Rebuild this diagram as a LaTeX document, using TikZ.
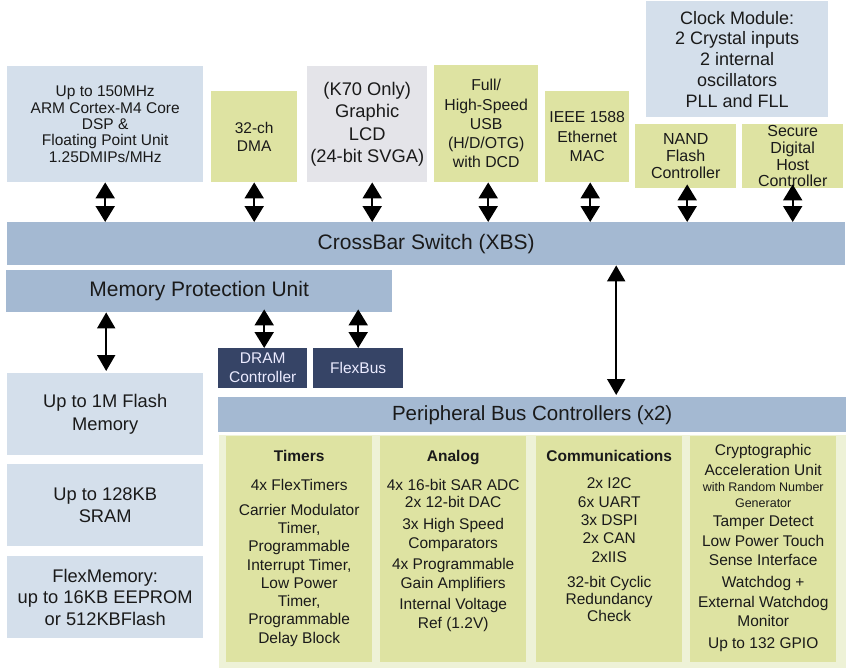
\documentclass[tikz,border=0pt]{standalone}
\usepackage{fontspec}
\setmainfont{Liberation Sans}
\usetikzlibrary{arrows.meta}
\definecolor{lblue}{HTML}{D4DFEB}
\definecolor{lgreen}{HTML}{DEE3A2}
\definecolor{lgray}{HTML}{E4E4E9}
\definecolor{barblue}{HTML}{A4B9D2}
\definecolor{dnavy}{HTML}{364466}
\definecolor{pale}{HTML}{EEF2D7}
\definecolor{txt}{HTML}{1A1A1A}
\newcommand\setfs[2]{\fontsize{#1}{#2}\selectfont}
\begin{document}
\begin{tikzpicture}[x=1pt,y=-1pt,
  box/.style={draw=none, inner sep=0pt, anchor=north west, align=center, text=txt},
  coltext/.style={inner sep=0pt, anchor=north, align=center, text=txt, font={\setfs{15.5}{18.3}}},
  dblshort/.style={line width=2pt, {Triangle[width=19pt,length=16pt]}-{Triangle[width=19pt,length=16pt]}},
  dbllong/.style={line width=2pt, {Triangle[width=18pt,length=16pt]}-{Triangle[width=18pt,length=16pt]}}
]
\useasboundingbox (0,0) rectangle (846,670);

% top row
\node[box, fill=lblue, minimum width=196pt, minimum height=116pt, font={\setfs{15.5}{16.3}}] (cpu) at (7,66)
  {Up to 150MHz\\ARM Cortex-M4 Core\\DSP \&\\Floating Point Unit\\1.25DMIPs/MHz};
\node[box, fill=lgreen, minimum width=86pt, minimum height=91pt, font={\setfs{15.5}{18}}] (dma) at (211,91)
  {32-ch\\DMA};
\node[box, fill=lgray, minimum width=120pt, minimum height=116pt, font={\setfs{18.3}{22.3}}] (lcd) at (307,66)
  {(K70 Only)\\Graphic\\LCD\\(24-bit SVGA)};
\node[box, fill=lgreen, minimum width=104pt, minimum height=117pt, font={\setfs{15.8}{19.3}}] (usb) at (434,65)
  {Full/\\High-Speed\\USB\\(H/D/OTG)\\with DCD};
\node[box, fill=lgreen, minimum width=84pt, minimum height=91pt, font={\setfs{15.8}{19.2}}] (eth) at (545,91)
  {IEEE 1588\\Ethernet\\MAC};
\node[box, fill=lblue, minimum width=182pt, minimum height=116pt, font={\setfs{18}{20.8}}] (clock) at (646,1)
  {Clock Module:\\2 Crystal inputs\\2 internal\\oscillators\\PLL and FLL};
\node[box, fill=lgreen, minimum width=101pt, minimum height=64pt, font={\setfs{16}{16.7}}] (nand) at (635,124)
  {NAND\\Flash\\Controller};
\node[box, fill=lgreen, minimum width=101pt, minimum height=64pt, font={\setfs{16}{16.7}}] (sd) at (742,124)
  {Secure\\Digital\\Host\\Controller};

% crossbar
\node[box, fill=barblue, minimum width=838pt, minimum height=43pt, font={\setfs{21}{24}}] (xbs) at (7,222)
  {CrossBar Switch (XBS)};

\draw[dblshort] (cpu.south) -- (cpu.south |- xbs.north);
\draw[dblshort] (dma.south) -- (dma.south |- xbs.north);
\draw[dblshort] ([xshift=5pt]lcd.south) -- ([xshift=5pt]lcd.south |- xbs.north);
\draw[dblshort] ([xshift=2pt]usb.south) -- ([xshift=2pt]usb.south |- xbs.north);
\draw[dblshort] ([xshift=3pt]eth.south) -- ([xshift=3pt]eth.south |- xbs.north);
\draw[dblshort] ([xshift=1.5pt,yshift=4pt]nand.south) -- ([xshift=1.5pt]nand.south |- xbs.north);
\draw[dblshort] ([yshift=4pt]sd.south) -- (sd.south |- xbs.north);

% MPU and memory
\node[box, fill=barblue, minimum width=386pt, minimum height=42pt, font={\setfs{21}{24}}] (mpu) at (6,270)
  {Memory Protection Unit};
\node[box, fill=dnavy, text=white!92!blue, minimum width=89pt, minimum height=40pt, font={\setfs{15.5}{19}}] (dram) at (218,348)
  {DRAM\\Controller};
\node[box, fill=dnavy, text=white!92!blue, minimum width=90pt, minimum height=40pt, font={\setfs{15.5}{19}}] (flexbus) at (313,348)
  {FlexBus};
\node[box, fill=lblue, minimum width=196pt, minimum height=82pt, font={\setfs{18.3}{22.5}}] (flash) at (7,373)
  {Up to 1M Flash\\Memory};
\node[box, fill=lblue, minimum width=196pt, minimum height=82pt, font={\setfs{18.3}{22}}] (sram) at (7,464)
  {Up to 128KB\\SRAM};
\node[box, fill=lblue, minimum width=196pt, minimum height=82pt, font={\setfs{18.3}{21.7}}] (flexmem) at (7,556)
  {FlexMemory:\\up to 16KB EEPROM\\or 512KBFlash};

\draw[dbllong] ([xshift=1pt]flash.north |- mpu.south) -- ([xshift=1pt,yshift=2pt]flash.north);
\draw[dblshort] ([xshift=1.5pt,yshift=3pt]dram.north |- mpu.south) -- ([xshift=1.5pt]dram.north);
\draw[dblshort] ([yshift=3pt]flexbus.north |- mpu.south) -- (flexbus.north);

% peripheral bus
\node[box, fill=barblue, minimum width=628pt, minimum height=35pt, font={\setfs{20.5}{24}}] (pbc) at (218,397)
  {Peripheral Bus Controllers (x2)};
\draw[dbllong] ([xshift=84pt]pbc.north |- xbs.south) -- ([xshift=84pt,yshift=2pt]pbc.north);

\node[box, fill=pale, minimum width=627pt, minimum height=233pt] (pback) at (219,435) {};
\node[box, fill=lgreen, minimum width=146pt, minimum height=226pt] (timers) at (226,436) {};
\node[box, fill=lgreen, minimum width=146pt, minimum height=226pt] (analog) at (380,436) {};
\node[box, fill=lgreen, minimum width=146pt, minimum height=226pt] (comm) at (536,436) {};
\node[box, fill=lgreen, minimum width=146pt, minimum height=226pt] (crypto) at (690,436) {};

\node[coltext] (timersT) at ([yshift=-14.4pt]timers.north)
  {\textbf{Timers}\\[10.7pt]4x FlexTimers\\[6pt]Carrier Modulator\\Timer,\\Programmable\\Interrupt Timer,\\Low Power\\Timer,\\Programmable\\Delay Block};
\node[coltext] (analogT) at ([yshift=-14.4pt]analog.north)
  {\textbf{Analog}\\[10.7pt]4x 16-bit SAR ADC\\[-1.3pt]2x 12-bit DAC\\[3.7pt]3x High Speed\\[0.7pt]Comparators\\[2.7pt]4x Programmable\\[0.7pt]Gain Amplifiers\\[2.7pt]Internal Voltage\\Ref (1.2V)};
\node[coltext] (commT) at ([yshift=-14.4pt]comm.north)
  {\textbf{Communications}\\[8.7pt]2x I2C\\6x UART\\3x DSPI\\2x CAN\\2xIIS\\[6.7pt]32-bit Cyclic\\[-1.3pt]Redundancy\\[-1.3pt]Check};
\node[coltext] (cryptoT) at ([yshift=-8.5pt]crypto.north)
  {Cryptographic\\[1.7pt]Acceleration Unit\\[-2.3pt]{\setfs{12.5}{15}with Random Number}\\[-2.3pt]{\setfs{12.5}{15}Generator}\\[0.7pt]Tamper Detect\\[1.7pt]Low Power Touch\\[0.7pt]Sense Interface\\[3.7pt]Watchdog +\\[1.7pt]External Watchdog\\[0.7pt]Monitor\\[3.7pt]Up to 132 GPIO};
\end{tikzpicture}
\end{document}
